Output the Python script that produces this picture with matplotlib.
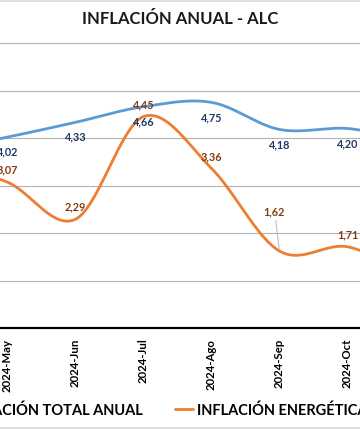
import numpy as np
import matplotlib.pyplot as plt

plt.rcParams['font.family'] = ['Lato', 'DejaVu Sans']

# data (visible window May..Oct, neighbours partly cut off)
months = ['2024-Abr', '2024-May', '2024-Jun', '2024-Jul', '2024-Ago', '2024-Sep', '2024-Oct', '2024-Nov']
inflacion_total = [3.75, 4.02, 4.33, 4.66, 4.75, 4.18, 4.20, 3.95]
inflacion_energia = [3.45, 3.07, 2.29, 4.45, 3.36, 1.62, 1.71, 1.10]
shown = range(1, 7)

BLUE = '#5B9BD5'
ORANGE = '#ED7D31'
BLUE_LBL = '#203864'
ORANGE_LBL = '#843C0C'


def smooth(y, n=40):
    # catmull-rom, like excel's smoothed line
    y = np.asarray(y, float)
    p = np.concatenate([[y[0]], y, [y[-1]]])
    xs, ys = [], []
    t = np.linspace(0, 1, n, endpoint=False)
    for i in range(len(y) - 1):
        p0, p1, p2, p3 = p[i:i + 4]
        m1 = (p2 - p0) / 2
        m2 = (p3 - p1) / 2
        h00 = 2 * t**3 - 3 * t**2 + 1
        h10 = t**3 - 2 * t**2 + t
        h01 = -2 * t**3 + 3 * t**2
        h11 = t**3 - t**2
        xs.append(i + t)
        ys.append(h00 * p1 + h10 * m1 + h01 * p2 + h11 * m2)
    xs.append([len(y) - 1])
    ys.append([y[-1]])
    return np.concatenate(xs), np.concatenate(ys)


fig = plt.figure(figsize=(3.6, 4.31), dpi=100)
ax = fig.add_axes([0, 1 - 329 / 431, 1, 6.3 * 47.5 / 431])

x, y = smooth(inflacion_total)
ax.plot(x, y, color=BLUE, lw=2, label='INFLACIÓN TOTAL ANUAL', solid_capstyle='round')
x, y = smooth(inflacion_energia)
ax.plot(x, y, color=ORANGE, lw=2, label='INFLACIÓN ENERGÉTICA ANUAL', solid_capstyle='round')

for i in range(len(months)):
    ax.annotate(f'{inflacion_total[i]:.2f}'.replace('.', ','), (i, inflacion_total[i]),
                xytext=(0, -14), textcoords='offset pixels', ha='center', va='center',
                fontsize=7.8, fontweight='bold', color=BLUE_LBL)
    if months[i] == '2024-Sep':
        ax.annotate(f'{inflacion_energia[i]:.2f}'.replace('.', ','), (i, inflacion_energia[i]),
                    xytext=(-5, 40), textcoords='offset pixels', ha='center', va='center',
                    fontsize=7.8, fontweight='bold', color=ORANGE_LBL,
                    arrowprops=dict(arrowstyle='-', color='#BFBFBF', lw=0.8, shrinkA=1, shrinkB=2))
    else:
        ax.annotate(f'{inflacion_energia[i]:.2f}'.replace('.', ','), (i, inflacion_energia[i]),
                    xytext=(0, 13), textcoords='offset pixels', ha='center', va='center',
                    fontsize=7.8, fontweight='bold', color=ORANGE_LBL)

ax.set_xlim(1 - 7.5 / 68, 1 + 352.5 / 68)
ax.set_ylim(0, 6.3)
ax.set_yticks(range(1, 7))
ax.grid(axis='y', color='#B4B4B4', lw=0.8)
ax.set_axisbelow(True)
ax.set_xticks(list(shown))
ax.set_xticklabels([months[i] for i in shown], rotation=90, fontsize=8.2, fontweight='bold')
ax.tick_params(axis='x', length=0, pad=7)
ax.tick_params(axis='y', length=0, labelleft=False)
for s in ['top', 'left', 'right']:
    ax.spines[s].set_visible(False)
ax.spines['bottom'].set_color('black')
ax.spines['bottom'].set_linewidth(1.6)

fig.text(0.5, 1 - 19.5 / 431, 'INFLACIÓN ANUAL - ALC', ha='center', va='center',
         fontsize=12, fontweight='bold', color='#1a1a1a')

# chart border (only top/bottom edges visible in the crop)
for yy in [1 - 1.5 / 431, 2 / 431]:
    fig.add_artist(plt.Line2D([0, 1], [yy, yy], color='#D9D9D9', lw=1.2, transform=fig.transFigure))

leg = fig.legend(ncol=2, loc='center left', bbox_to_anchor=(0, 1 - 411 / 431), frameon=False,
                 prop={'size': 10.5, 'weight': 'bold'}, handlelength=1.25, handletextpad=0.25,
                 columnspacing=2.2, borderaxespad=0, borderpad=0)
fig.canvas.draw()
left = leg.get_texts()[1].get_window_extent().x0
shift = 197 - left
leg.set_bbox_to_anchor((shift / 360, 1 - 411 / 431), transform=fig.transFigure)

fig.savefig('out.png', dpi=100)
